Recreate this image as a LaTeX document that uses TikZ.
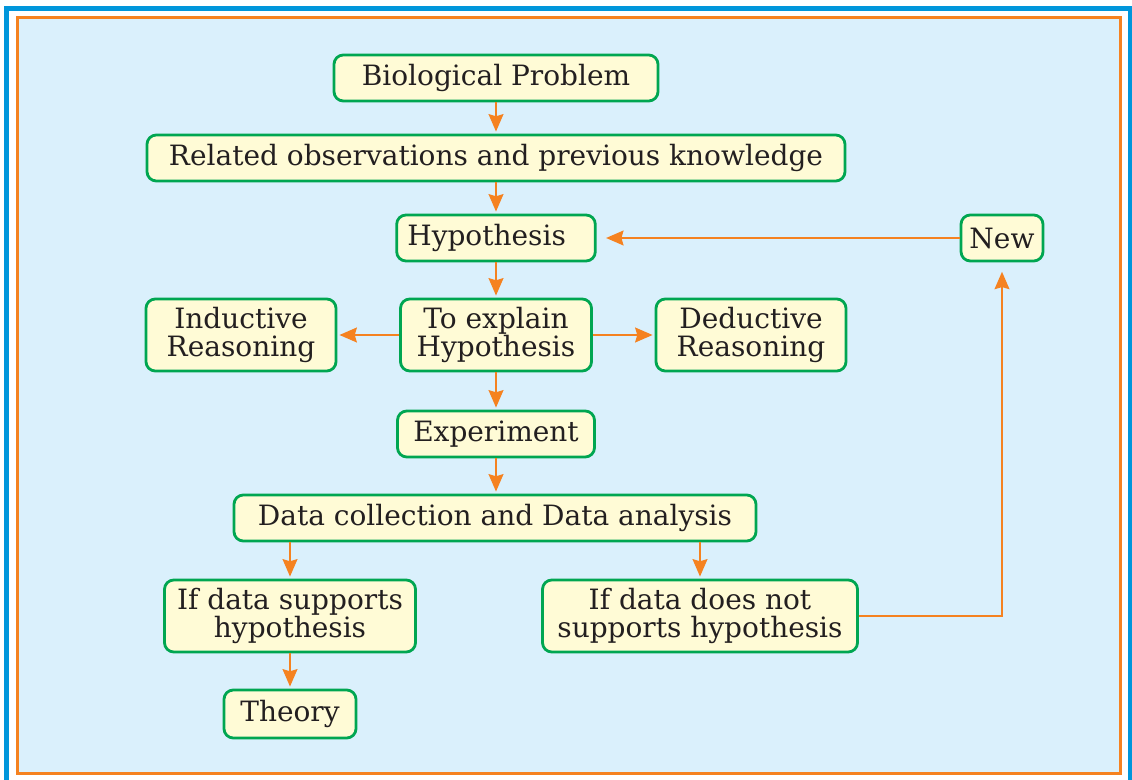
\documentclass[tikz,border=0pt]{standalone}
\usepackage{amsmath}
\usepackage{fontspec}
\setmainfont{DejaVu Serif}
\usepackage{tikz}
\usetikzlibrary{arrows.meta}

\definecolor{frameblue}{RGB}{0,150,219}
\definecolor{lineorange}{RGB}{245,130,32}
\definecolor{boxgreen}{RGB}{0,166,81}
\definecolor{boxfill}{RGB}{255,251,214}
\definecolor{bgblue}{RGB}{218,240,252}
\definecolor{textdark}{RGB}{35,31,32}

\tikzset{
  box/.style={draw=boxgreen, fill=boxfill, line width=2.1pt, rounded corners=7pt,
    text=textdark, align=center, inner sep=2pt, minimum height=34.5pt,
    font=\fontsize{21}{20.5}\selectfont},
  tallbox/.style={box, minimum height=54pt},
  arr/.style={draw=lineorange, line width=2pt,
    -{Stealth[length=13pt,width=11pt,inset=1.5pt]}, shorten >=1.5pt}
}

\begin{document}
\begin{tikzpicture}[x=0.75pt,y=0.75pt,yscale=-1,xscale=1]
\useasboundingbox (0,0) rectangle (1132,780);

%Frame
\fill [white] (0,0) rectangle (1132,780);
\draw [frameblue, line width=3.6pt] (6.5,780) -- (6.5,8.5) -- (1130,8.5) -- (1130,780);
\draw [lineorange, fill=bgblue, line width=2.2pt] (17.5,17.5) rectangle (1120.5,773.5);

% Text Node
\node [box, minimum width=243pt] (bio) at (496,78) {Biological Problem};
% Text Node
\node [box, minimum width=523.5pt] (obs) at (496,158) {Related observations and previous knowledge};
% Text Node
\node [box, text width=133pt, align=left, inner xsep=8pt] (hyp) at (496,238) {Hypothesis};
% Text Node
\node [box, minimum width=61.5pt] (new) at (1002,238) {New};
% Text Node
\node [tallbox, minimum width=142.5pt] (ind) at (241,335) {Inductive\\Reasoning};
% Text Node
\node [tallbox, minimum width=143.25pt] (expl) at (496,335) {To explain\\Hypothesis};
% Text Node
\node [tallbox, minimum width=142.5pt] (ded) at (751,335) {Deductive\\Reasoning};
% Text Node
\node [box, minimum width=147.75pt] (exp) at (496,434) {Experiment};
% Text Node
\node [box, minimum width=391.5pt] (data) at (495,518) {Data collection and Data analysis};
% Text Node
\node [tallbox, minimum width=188.25pt] (sup) at (290,616) {If data supports\\hypothesis};
% Text Node
\node [tallbox, minimum width=236.25pt] (nsup) at (700,616) {If data does not\\supports hypothesis};
% Text Node
\node [box, minimum width=99pt, minimum height=36pt] (theory) at (290,714) {Theory};

%Straight Lines
\draw [arr] (bio) -- (obs);
\draw [arr] (obs) -- (hyp);
\draw [arr] (hyp) -- (expl);
\draw [arr] (expl) -- (ind);
\draw [arr] (expl) -- (ded);
\draw [arr] (expl) -- (exp);
\draw [arr] (exp) -- (exp |- data.north);
\draw [arr] (data.south -| sup.north) -- (sup.north);
\draw [arr] (data.south -| nsup.north) -- (nsup.north);
\draw [arr] (sup) -- (theory);
\draw [arr, shorten >=7pt] (nsup.east) -| (new.south);
\draw [arr, shorten >=7pt] (new.west) -- (hyp.east);

\end{tikzpicture}
\end{document}
